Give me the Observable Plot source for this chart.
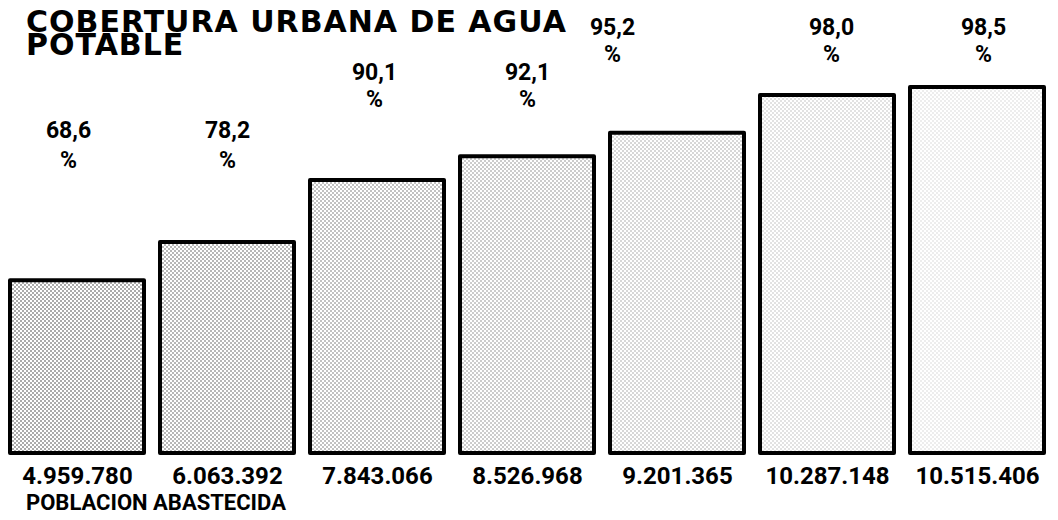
<!DOCTYPE html>
<html>
<head>
<meta charset="utf-8">
<script src="https://cdn.jsdelivr.net/npm/d3@7"></script>
<script src="https://cdn.jsdelivr.net/npm/@observablehq/plot@0.6"></script>
<style>
  html, body { margin: 0; padding: 0; background: #fff; }
  #wrap { position: relative; width: 1058px; height: 520px; overflow: hidden; background: #fff; }
  #title { position: absolute; left: 26px; top: 10px; margin: 0; font-family: "DejaVu Sans", sans-serif; font-weight: bold; font-size: 30px; line-height: 23px; letter-spacing: 1px; color: #000; }
  #caption { position: absolute; left: 26px; top: 492px; margin: 0; font-family: Roboto, sans-serif; font-weight: bold; font-size: 22px; line-height: 22px; color: #000; white-space: nowrap; }
  #chart { position: absolute; left: 0; top: 0; }
</style>
</head>
<body>
<div id="wrap">
  <div id="chart"></div>
  <div id="title"></div>
  <div id="caption"></div>
</div>
<script>
// ---- data ----
const etapas = ["I", "II", "III", "IV", "V", "VI", "VII"];
const cobertura = [68.6, 78.2, 90.1, 92.1, 95.2, 98.0, 98.5];
const poblacion = [4959780, 6063392, 7843066, 8526968, 9201365, 10287148, 10515406];
const tituloLineas = ["COBERTURA URBANA DE AGUA", "POTABLE"];
const pie = "POBLACION ABASTECIDA";

// ---- table built from the arrays ----
const data = etapas.map((e, i) => ({etapa: e, cobertura: cobertura[i], poblacion: poblacion[i], i}));

const loc = d3.formatLocale({decimal: ",", thousands: ".", grouping: [3], currency: ["", ""]});
const fmtPct = loc.format(".1f");
const fmtPop = loc.format(",");

// layout of the percentage labels (three staggered rows)
const rowOf = i => (i < 2 ? 0 : i < 4 ? 1 : 2);
const rowDy = [29, -27, -72];
const rowLH = [1.30, 1.17, 1.17];
const labelDx = [-9, 0, -3, 0, -65, 4, 6];
const density = d3.scaleLinear([0, etapas.length - 1], [0.95, 0.2]);

const labelFont = 'Roboto, sans-serif';

const pctMarks = data.map((d, i) => Plot.text([d], {
  x: "etapa",
  text: d => fmtPct(d.cobertura) + "\n%",
  frameAnchor: "top",
  lineAnchor: "top",
  dy: rowDy[rowOf(i)],
  dx: labelDx[i],
  lineHeight: rowLH[rowOf(i)],
  fontSize: 23,
  fontWeight: "bold",
  fontFamily: labelFont,
  fill: "#000"
}));

const chart = Plot.plot({
  width: 1058,
  height: 520,
  marginTop: 87,
  marginBottom: 67,
  marginLeft: 8,
  marginRight: 12,
  style: {background: "transparent", overflow: "visible"},
  x: {domain: etapas, paddingInner: 0.11, paddingOuter: 0, axis: null},
  y: {domain: [0, d3.max(poblacion)], axis: null},
  opacity: {type: "identity"},
  marks: [
    // stippled fill
    Plot.barY(data, {
      x: "etapa",
      y: "poblacion",
      fill: "url(#stipple)",
      fillOpacity: d => density(d.i),
      ariaLabel: "bar fill"
    }),
    // heavy outline
    Plot.barY(data, {
      x: "etapa",
      y: "poblacion",
      fill: "none",
      stroke: "#000",
      strokeWidth: 4,
      strokeLinejoin: "round",
      ariaLabel: "bar outline"
    }),
    ...pctMarks,
    Plot.text(data, {
      x: "etapa",
      text: d => fmtPop(d.poblacion),
      frameAnchor: "bottom",
      lineAnchor: "middle",
      dy: 23,
      fontSize: 24,
      fontWeight: "bold",
      fontFamily: labelFont,
      fill: "#000"
    })
  ]
});

// stipple pattern and a vertical fade (denser near the top, sparse at the base)
const defs = d3.select(chart).insert("defs", ":first-child");
const pat = defs.append("pattern")
  .attr("id", "stipple")
  .attr("patternUnits", "userSpaceOnUse")
  .attr("width", 4)
  .attr("height", 4);
pat.append("circle").attr("cx", 1).attr("cy", 1).attr("r", 0.75).attr("fill", "#222");
pat.append("circle").attr("cx", 3).attr("cy", 3).attr("r", 0.75).attr("fill", "#222");

const grad = defs.append("linearGradient")
  .attr("id", "fadeGrad").attr("x1", 0).attr("y1", 0).attr("x2", 0).attr("y2", 1);
[[0, 0.75], [0.3, 1], [0.65, 0.85], [1, 0.2]].forEach(([o, v]) =>
  grad.append("stop").attr("offset", o).attr("stop-color", "#fff").attr("stop-opacity", v));
const mask = defs.append("mask")
  .attr("id", "fade")
  .attr("maskContentUnits", "objectBoundingBox");
mask.append("rect").attr("width", 1).attr("height", 1).attr("fill", "url(#fadeGrad)");

d3.select(chart).selectAll('g[aria-label="bar fill"] rect').attr("mask", "url(#fade)");

document.getElementById("chart").appendChild(chart);
document.getElementById("title").innerHTML = tituloLineas.join("<br>");
document.getElementById("caption").textContent = pie;
</script>
</body>
</html>
